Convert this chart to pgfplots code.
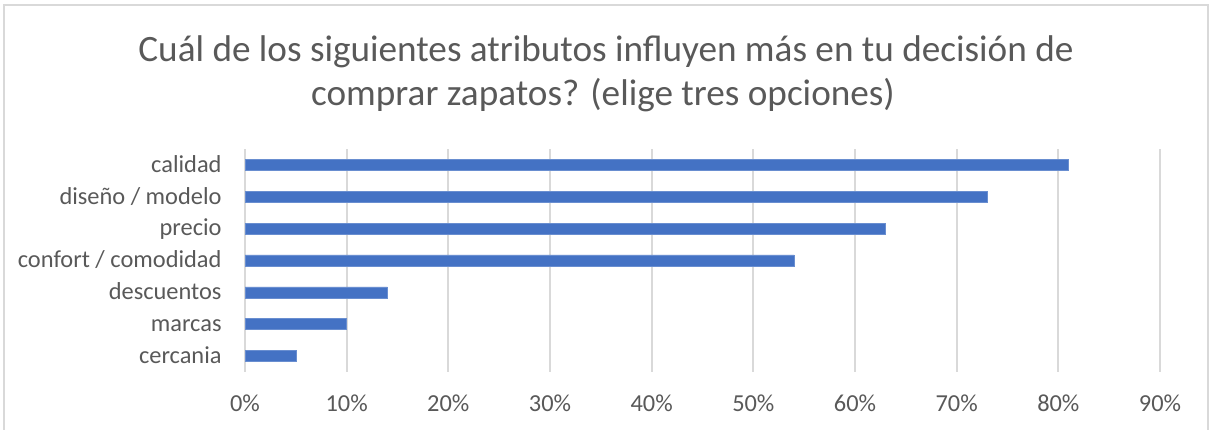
\documentclass[border=0pt]{standalone}
\usepackage{pgfplots}
\pgfplotsset{compat=1.18}
\usepackage{fontspec}
\setmainfont{Carlito}
\definecolor{barblue}{HTML}{4472C4}
\definecolor{txtgray}{HTML}{595959}
\definecolor{gridgray}{HTML}{D9D9D9}
\begin{document}
\begin{tikzpicture}
\useasboundingbox (0,0) rectangle (1211bp,430bp);
\draw[gridgray, line width=1.8bp] (4bp,-20bp) -- (4bp,425bp) -- (1208bp,425bp) -- (1208bp,-20bp);
\node[anchor=base, inner sep=0pt, text=txtgray, font=\fontsize{37.2bp}{44bp}\selectfont] at (606bp,368bp) {Cuál de los siguientes atributos influyen más en tu decisión de};
\node[anchor=base, inner sep=0pt, text=txtgray, font=\fontsize{37.2bp}{44bp}\selectfont] at (603bp,324bp) {comprar zapatos? (elige tres opciones)};
\begin{axis}[
  at={(245bp,58bp)}, anchor=south west,
  scale only axis, width=915bp, height=223bp,
  xbar, bar width=11bp,
  xmin=0, xmax=90, ymin=-0.5, ymax=6.5,
  xtick={0,10,...,90},
  xticklabels={0\%,10\%,20\%,30\%,40\%,50\%,60\%,70\%,80\%,90\%},
  ytick={0,...,6},
  yticklabels={cercania,marcas,descuentos,confort / comodidad,precio,diseño / modelo,calidad},
  xmajorgrids, grid style={gridgray, line width=2bp},
  axis line style={draw=none},
  major tick style={draw=none},
  ticklabel style={text=txtgray, font=\fontsize{24.4bp}{29bp}\selectfont, inner sep=0pt},
  xticklabel style={anchor=base, yshift=-39.7bp},
  yticklabel style={anchor=base east, xshift=-19bp, yshift=-7.3bp},
  /pgf/number format/assume math mode=true,
]
\addplot[fill=barblue, draw=barblue!80!white, line width=0.5bp] coordinates {
  (5,0) (10,1) (14,2) (54,3) (63,4) (73,5) (81,6)
};
\end{axis}
\end{tikzpicture}
\end{document}
